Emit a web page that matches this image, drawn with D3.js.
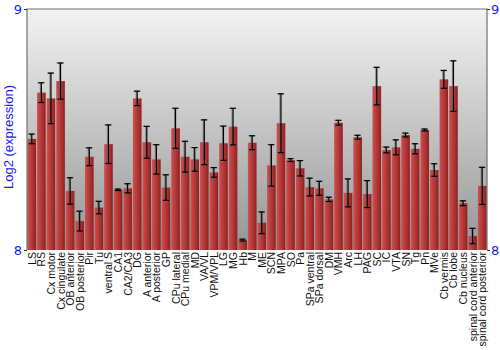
<!DOCTYPE html>
<html>
<head>
<meta charset="utf-8">
<script src="https://cdn.jsdelivr.net/npm/d3@7"></script>
<style>
  body { margin: 0; background: #fff; }
  text { font-family: "Liberation Sans", Arial, sans-serif; }
</style>
</head>
<body>
<script>
const [W, H] = [500, 350];
const M = { left: 27, right: 13, top: 9, bottom: 100 };

const regions = ['LS', 'RS', 'Cx motor', 'Cx cingulate', 'OB anterior', 'OB posterior', 'Pir', 'Tu',
    'ventral S', 'CA1', 'CA2/CA3', 'DG', 'A anterior', 'A posterior', 'GP', 'CPu lateral', 'CPu medial',
    'MD', 'VA/VL', 'VPM/VPL', 'LG', 'MG', 'Hb', 'M', 'ME', 'SCN', 'MPA', 'SO', 'Pa', 'SPa ventral',
    'SPa dorsal', 'DM', 'VMH', 'Arc', 'LH', 'PAG', 'SC', 'IC', 'VTA', 'SN', 'Tg', 'Pn', 'MVe',
    'Cb vermis', 'Cb lobe', 'Cb nucleus', 'spinal cord anterior', 'spinal cord posterior'];

const expression = [8.461, 8.653, 8.629, 8.701, 8.245, 8.120, 8.387, 8.176,
    8.439, 8.250, 8.256, 8.629, 8.447, 8.376, 8.259, 8.505, 8.387,
    8.376, 8.447, 8.322, 8.443, 8.512, 8.041, 8.445, 8.113, 8.351, 8.526, 8.373, 8.339, 8.261,
    8.256, 8.210, 8.528, 8.237, 8.468, 8.232, 8.680, 8.415, 8.426, 8.477, 8.420, 8.498, 8.332,
    8.708, 8.680, 8.194, 8.058, 8.266];

const errors = [0.020, 0.041, 0.105, 0.075, 0.055, 0.041, 0.037, 0.026,
    0.080, 0.003, 0.019, 0.030, 0.066, 0.061, 0.053, 0.083, 0.064,
    0.049, 0.093, 0.020, 0.071, 0.076, 0.004, 0.029, 0.045, 0.086, 0.122, 0.006, 0.032, 0.037,
    0.029, 0.009, 0.010, 0.058, 0.008, 0.056, 0.078, 0.012, 0.031, 0.008, 0.021, 0.004, 0.026,
    0.037, 0.105, 0.010, 0.032, 0.077];

const yTicks = [8, 9];

const data = regions.map((r, i) => ({ region: r, value: expression[i], err: errors[i] }));

const svg = d3.select('body').append('svg').attr('width', W).attr('height', H);

const defs = svg.append('defs');
const bg = defs.append('linearGradient').attr('id', 'bg').attr('x1', 0).attr('y1', 0).attr('x2', 0).attr('y2', 1);
bg.append('stop').attr('offset', '0%').attr('stop-color', '#f3f3f3');
bg.append('stop').attr('offset', '100%').attr('stop-color', '#959595');

const barGrad = defs.append('linearGradient').attr('id', 'bar').attr('x1', 0).attr('y1', 0).attr('x2', 1).attr('y2', 0);
barGrad.append('stop').attr('offset', '0%').attr('stop-color', '#cf5252');
barGrad.append('stop').attr('offset', '25%').attr('stop-color', '#c04444');
barGrad.append('stop').attr('offset', '75%').attr('stop-color', '#a52d2d');
barGrad.append('stop').attr('offset', '100%').attr('stop-color', '#8a1e1e');

const x = d3.scaleBand().domain(regions).range([M.left, W - M.right]).paddingInner(0.1).paddingOuter(0.05);
const y = d3.scaleLinear().domain([8, 9]).range([H - M.bottom, M.top]);

// plot background
svg.append('rect')
    .attr('x', M.left).attr('y', M.top)
    .attr('width', W - M.right - M.left).attr('height', H - M.bottom - M.top)
    .attr('fill', 'url(#bg)');

// bars
svg.selectAll('rect.bar')
    .data(data).enter()
    .append('rect')
    .attr('class', 'bar')
    .attr('x', d => x(d.region))
    .attr('y', d => y(d.value))
    .attr('width', x.bandwidth())
    .attr('height', d => y(8) - y(d.value))
    .attr('fill', 'url(#bar)');

// error bars (grey shadow then black)
const eb = svg.selectAll('g.err').data(data).enter().append('g').attr('class', 'err');
[['#6a6a6a', -1, 0.7], ['#000', 0, 1]].forEach(([col, dx, op]) => {
    const cx = d => x(d.region) + x.bandwidth() / 2 + dx;
    eb.append('line')
        .attr('x1', cx).attr('x2', cx)
        .attr('y1', d => y(d.value + d.err)).attr('y2', d => y(d.value - d.err))
        .attr('stroke', col).attr('stroke-opacity', op).attr('stroke-width', 1.2);
    ['+', '-'].forEach(s => {
        eb.append('line')
            .attr('x1', d => cx(d) - 3).attr('x2', d => cx(d) + 3)
            .attr('y1', d => y(s === '+' ? d.value + d.err : d.value - d.err))
            .attr('y2', d => y(s === '+' ? d.value + d.err : d.value - d.err))
            .attr('stroke', col).attr('stroke-opacity', op).attr('stroke-width', 1.2);
    });
});

// frame
svg.append('path')
    .attr('d', `M${M.left},${H - M.bottom}V${M.top}H${W - M.right}V${H - M.bottom}`)
    .attr('fill', 'none').attr('stroke', '#707070').attr('stroke-width', 1.2);

// y axes
const yLeft = d3.axisLeft(y).tickValues(yTicks).tickSize(3).tickPadding(2).tickFormat(d3.format('d'));
const yRight = d3.axisRight(y).tickValues(yTicks).tickSize(3).tickPadding(1).tickFormat(d3.format('d'));

[[yLeft, M.left], [yRight, W - M.right]].forEach(([ax, tx]) => {
    const g = svg.append('g').attr('transform', `translate(${tx},0)`).call(ax);
    g.select('.domain').remove();
    g.selectAll('line').attr('stroke', '#333');
    g.selectAll('text').attr('fill', '#1a1aff').style('font-size', '13px')
        .style('font-family', '"DejaVu Sans", sans-serif');
});

svg.append('text')
    .attr('transform', 'rotate(-90)')
    .attr('x', -137)
    .attr('y', 13)
    .style('text-anchor', 'middle')
    .style('font-size', '13px')
    .attr('fill', '#1a1aff')
    .text('Log2 (expression)');

// x labels
svg.selectAll('text.xl')
    .data(regions).enter()
    .append('text')
    .attr('class', 'xl')
    .attr('transform', d => `translate(${x(d) + x.bandwidth() / 2 + 4},${H - M.bottom + 2}) rotate(-90)`)
    .style('text-anchor', 'end')
    .style('font-size', '10.5px')
    .attr('fill', '#111')
    .text(d => d);
</script>
</body>
</html>
